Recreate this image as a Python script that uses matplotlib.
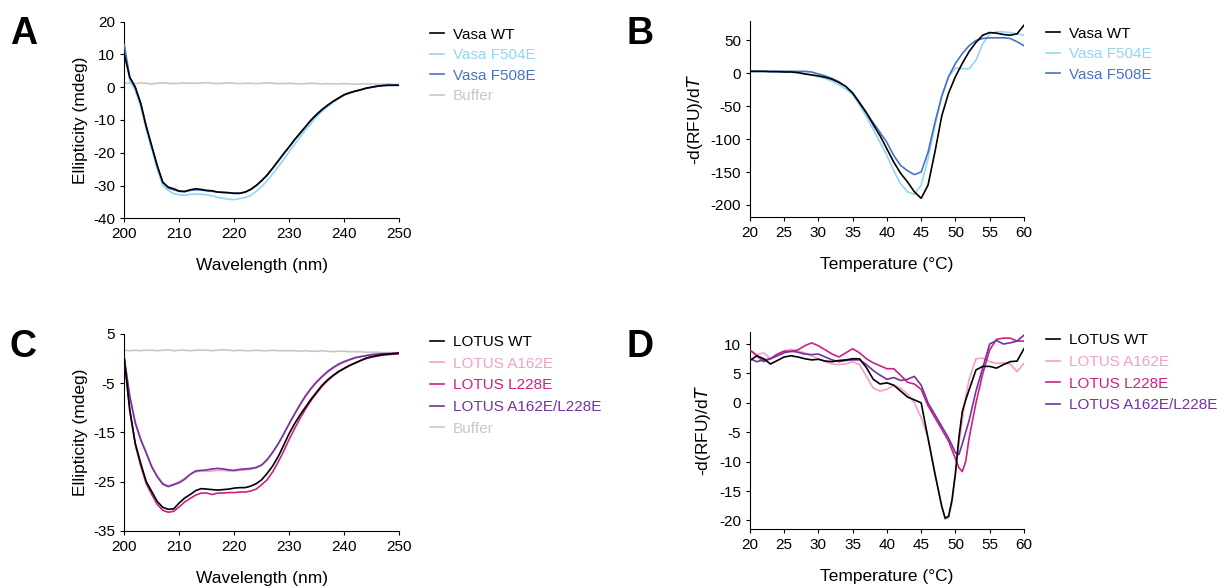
import numpy as np
import matplotlib
matplotlib.use("Agg")
import matplotlib.pyplot as plt

plt.rcParams['font.family'] = ['Liberation Sans', 'DejaVu Sans']
plt.rcParams['axes.unicode_minus'] = False

# ---- panel A: CD spectra, Vasa ----
wl_a = list(range(200, 251))
vasa_wt = [10, 3, 0, -5, -12, -18, -24, -29, -30.5, -31, -31.7, -31.8, -31.3, -31.0, -31.2,
           -31.5, -31.6, -32.0, -32.1, -32.2, -32.4, -32.4, -32.0, -31.2, -30.0, -28.5, -26.8,
           -24.7, -22.5, -20.3, -18.2, -16.0, -14.0, -12.0, -10.0, -8.3, -6.8, -5.5, -4.3,
           -3.3, -2.3, -1.7, -1.2, -0.8, -0.3, 0.0, 0.3, 0.5, 0.6, 0.6, 0.6]
vasa_f504e = [12, 2, -1, -6, -13, -19, -25, -30, -31.5, -32.5, -32.8, -33.0, -32.7, -32.6, -32.7,
              -32.8, -33.2, -33.6, -33.9, -34.2, -34.3, -34.0, -33.7, -33.0, -31.8, -30.3, -28.5,
              -26.5, -24.3, -22.0, -19.7, -17.4, -15.2, -13.0, -11.0, -9.0, -7.3, -5.9, -4.6,
              -3.5, -2.5, -1.8, -1.3, -0.8, -0.3, 0.0, 0.3, 0.5, 0.6, 0.6, 0.6]
vasa_f508e = [13, 3, 0, -5, -12, -18, -24, -29, -30.8, -31.3, -31.8, -31.9, -31.5, -31.3, -31.4,
              -31.6, -31.8, -32.0, -32.1, -32.2, -32.3, -32.3, -32.0, -31.2, -30.0, -28.5, -26.8,
              -24.7, -22.5, -20.3, -18.2, -16.0, -14.0, -12.0, -10.0, -8.3, -6.8, -5.5, -4.3,
              -3.3, -2.3, -1.7, -1.2, -0.8, -0.3, 0.0, 0.3, 0.5, 0.6, 0.6, 0.6]
buffer_a = [1.3, 1.2, 1.1, 1.3, 1.2, 1.0, 1.2, 1.3, 1.2, 1.1, 1.2, 1.3, 1.2, 1.2, 1.3,
            1.4, 1.2, 1.1, 1.2, 1.3, 1.2, 1.1, 1.2, 1.2, 1.1, 1.2, 1.3, 1.2, 1.1, 1.1,
            1.2, 1.1, 1.0, 1.1, 1.2, 1.1, 1.0, 1.1, 1.0, 1.0, 1.1, 1.0, 0.9, 1.0, 1.0,
            1.0, 0.9, 1.0, 1.0, 0.9, 0.9]

# ---- panel B: melt curves, Vasa ----
temp_b = list(range(20, 61))
b_wt = [3, 3, 3, 2.5, 2.5, 2, 2, 1, -1, -2.5, -4, -6, -9, -14, -20, -30, -45, -60, -78, -95,
        -115, -135, -152, -165, -180, -190, -170, -120, -65, -30, -5, 15, 33, 47, 58, 62, 61,
        59, 58, 60, 73]
b_f504e = [3, 3, 3, 3, 3, 3, 2.5, 2, 0, -2, -5, -8, -12, -18, -24, -32, -48, -66, -85, -105,
           -125, -148, -168, -180, -184, -170, -130, -80, -35, -5, 8, 7, 7, 20, 45, 60, 63, 63,
           62, 60, 58]
b_f508e = [3, 3, 3, 3, 3, 3, 3, 3, 3, 2, -1, -4, -8, -13, -20, -30, -44, -60, -75, -90, -105,
           -125, -140, -148, -154, -150, -120, -75, -35, -5, 15, 30, 42, 50, 53, 54, 54, 54, 53,
           48, 42]

# ---- panel C: CD spectra, LOTUS ----
wl_c = list(range(200, 251))
lotus_wt = [0, -10.4, -17.2, -21.3, -25.0, -27.0, -29.0, -30.2, -30.6, -30.5, -29.3, -28.3,
            -27.6, -26.8, -26.4, -26.5, -26.6, -26.7, -26.6, -26.5, -26.3, -26.2, -26.2, -25.9,
            -25.4, -24.6, -23.3, -21.8, -19.9, -17.6, -15.2, -13.2, -11.4, -9.8, -8.2, -6.8,
            -5.4, -4.3, -3.4, -2.6, -2.0, -1.4, -0.9, -0.4, 0.1, 0.4, 0.6, 0.8, 0.9, 1.0, 1.1]
lotus_a162e = [0, -7.5, -12.8, -16.3, -19.0, -21.8, -23.8, -25.3, -25.8, -25.5, -25.0, -24.3,
               -23.5, -23.0, -22.8, -22.9, -22.8, -22.7, -22.7, -22.8, -22.8, -22.7, -22.6, -22.5,
               -22.2, -21.6, -20.6, -19.1, -17.4, -15.4, -13.3, -11.3, -9.4, -7.7, -6.2, -4.9,
               -3.8, -2.8, -2.0, -1.3, -0.8, -0.3, 0.1, 0.4, 0.6, 0.8, 0.9, 1.0, 1.0, 1.0, 1.0]
lotus_l228e = [0, -10.6, -17.5, -21.8, -25.4, -27.6, -29.6, -30.8, -31.2, -31.0, -30.1, -29.1,
               -28.4, -27.7, -27.3, -27.3, -27.6, -27.3, -27.3, -27.2, -27.2, -27.1, -27.1, -26.9,
               -26.5, -25.6, -24.6, -23.0, -21.0, -18.8, -16.4, -14.2, -12.1, -10.2, -8.5, -7.0,
               -5.6, -4.5, -3.5, -2.7, -2.0, -1.4, -0.9, -0.4, 0.0, 0.3, 0.5, 0.7, 0.8, 0.9, 1.0]
lotus_dm = [0, -7.7, -13.1, -16.5, -19.2, -22.0, -24.0, -25.5, -26.0, -25.6, -25.2, -24.5,
            -23.5, -22.8, -22.7, -22.6, -22.4, -22.3, -22.4, -22.6, -22.7, -22.5, -22.4, -22.3,
            -22.1, -21.6, -20.5, -19.0, -17.3, -15.3, -13.2, -11.2, -9.3, -7.5, -6.0, -4.7,
            -3.6, -2.6, -1.8, -1.1, -0.6, -0.2, 0.2, 0.4, 0.6, 0.8, 0.9, 1.0, 1.0, 1.1, 1.1]
buffer_c = [1.7, 1.6, 1.7, 1.6, 1.7, 1.7, 1.6, 1.7, 1.8, 1.6, 1.7, 1.7, 1.6, 1.7, 1.7,
            1.7, 1.6, 1.7, 1.8, 1.7, 1.6, 1.7, 1.6, 1.6, 1.7, 1.6, 1.6, 1.7, 1.6, 1.6,
            1.6, 1.6, 1.5, 1.6, 1.5, 1.5, 1.6, 1.5, 1.4, 1.5, 1.5, 1.4, 1.4, 1.4, 1.3,
            1.3, 1.3, 1.2, 1.2, 1.2, 1.2]

# ---- panel D: melt curves, LOTUS ----
temp_d = [20, 21, 22, 23, 24, 25, 26, 27, 28, 29, 30, 31, 32, 33, 34, 35, 36, 37, 38, 39, 40,
          41, 42, 43, 44, 45, 46, 47, 48, 48.5, 49, 49.5, 50, 50.5, 51, 51.5, 52, 53, 54, 55,
          56, 57, 58, 59, 60]
d_wt = [7.2, 8.0, 7.5, 6.6, 7.2, 7.8, 8.0, 7.8, 7.5, 7.3, 7.4, 7.1, 7.0, 7.2, 7.3, 7.5, 7.5,
        6.0, 4.0, 3.2, 3.4, 3.0, 2.0, 1.0, 0.5, 0.0, -6.0, -12.0, -17.6, -19.6, -19.3, -16.5,
        -12.0, -6.0, -1.5, 0.5, 2.2, 5.6, 6.2, 6.2, 5.9, 6.5, 7.0, 7.1, 9.2]
d_a162e = [9.0, 8.2, 8.5, 7.5, 8.0, 8.8, 9.1, 8.8, 8.5, 8.0, 7.5, 7.0, 6.6, 6.5, 6.6, 7.0, 6.5,
           4.5, 2.5, 2.0, 2.3, 3.0, 2.5, 1.5, 0.0, -2.5, -6.0, -12.0, -17.5, -19.8, -19.5,
           -17.0, -12.0, -7.0, -3.0, 1.0, 4.0, 7.5, 7.6, 7.0, 6.7, 6.8, 6.6, 5.3, 6.7]
d_l228e = [9.0, 8.0, 7.0, 7.5, 8.3, 8.8, 8.7, 9.0, 9.7, 10.2, 9.7, 9.0, 8.3, 7.8, 8.5, 9.2,
           8.5, 7.5, 6.8, 6.3, 5.8, 5.8, 4.7, 3.5, 3.2, 2.3, -0.5, -2.5, -4.5, -5.5, -6.5, -8.0,
           -9.5, -11.0, -11.7, -10.0, -6.0, 0.0, 5.0, 9.0, 10.8, 11.0, 11.0, 10.5, 10.5]
d_dm = [7.5, 7.0, 7.3, 7.5, 8.0, 8.5, 8.8, 8.6, 8.3, 8.2, 8.3, 7.8, 7.3, 7.0, 7.2, 7.3, 7.3,
        6.5, 5.5, 4.7, 4.0, 4.3, 3.8, 4.0, 4.5, 3.0, 0.0, -2.0, -4.0, -5.0, -6.0, -7.2, -8.5,
        -8.8, -7.0, -5.0, -3.0, 2.0, 6.0, 10.0, 10.6, 10.0, 10.2, 10.5, 11.5]

C_BLACK = '#000000'
C_LBLUE = '#93d5f5'
C_BLUE = '#4a72c4'
C_GREY = '#c8c8c8'
C_PINK = '#f29fc9'
C_MAG = '#cf1f84'
C_PURP = '#7232a0'

fig = plt.figure(figsize=(12.22, 5.86), dpi=100)

positions = {
    'A': [0.1017, 0.6275, 0.2249, 0.3355],
    'B': [0.6137, 0.6290, 0.2242, 0.3357],
    'C': [0.1017, 0.0939, 0.2249, 0.3362],
    'D': [0.6137, 0.0968, 0.2242, 0.3362],
}


def style(ax):
    for s in ['top', 'right']:
        ax.spines[s].set_visible(False)
    ax.tick_params(labelsize=11, length=3, direction='out')


def add_legend(ax, x0, y0=1.0, spacing=0.42):
    leg = ax.legend(loc='upper left', bbox_to_anchor=(x0, y0), frameon=False,
                    fontsize=11, handlelength=0.9, handletextpad=0.6,
                    labelspacing=spacing, borderaxespad=0, labelcolor='linecolor')
    for h in leg.get_lines():
        h.set_linewidth(1.2)


# A
ax = fig.add_axes(positions['A'])
ax.plot(wl_a, vasa_wt, color=C_BLACK, lw=1.2, label='Vasa WT', zorder=4)
ax.plot(wl_a, vasa_f504e, color=C_LBLUE, lw=1.2, label='Vasa F504E', zorder=2)
ax.plot(wl_a, vasa_f508e, color=C_BLUE, lw=1.2, label='Vasa F508E', zorder=3)
ax.plot(wl_a, buffer_a, color=C_GREY, lw=1.2, label='Buffer', zorder=1)
ax.set_xlim(200, 250)
ax.set_ylim(-40, 20)
ax.set_xticks(range(200, 251, 10))
ax.set_yticks(range(-40, 21, 10))
ax.set_xlabel('Wavelength (nm)', fontsize=12.5, labelpad=12)
ax.set_ylabel('Ellipticity (mdeg)', fontsize=12.5, labelpad=4)
style(ax)
add_legend(ax, 1.09)
fig.text(0.008, 0.925, 'A', fontsize=27, fontweight='bold')

# B
ax = fig.add_axes(positions['B'])
ax.plot(temp_b, b_wt, color=C_BLACK, lw=1.2, label='Vasa WT', zorder=4)
ax.plot(temp_b, b_f504e, color=C_LBLUE, lw=1.2, label='Vasa F504E', zorder=2)
ax.plot(temp_b, b_f508e, color=C_BLUE, lw=1.2, label='Vasa F508E', zorder=3)
ax.set_xlim(20, 60)
ax.set_ylim(-219, 80)
ax.set_xticks(range(20, 61, 5))
ax.set_yticks([-200, -150, -100, -50, 0, 50])
ax.set_xlabel('Temperature (°C)', fontsize=12.5, labelpad=12)
ax.set_ylabel('-d(RFU)/d$\\it{T}$', fontsize=12.5, labelpad=4)
style(ax)
add_legend(ax, 1.06)
fig.text(0.513, 0.925, 'B', fontsize=27, fontweight='bold')

# C
ax = fig.add_axes(positions['C'])
ax.plot(wl_c, lotus_wt, color=C_BLACK, lw=1.2, label='LOTUS WT', zorder=5)
ax.plot(wl_c, lotus_a162e, color=C_PINK, lw=1.2, label='LOTUS A162E', zorder=2)
ax.plot(wl_c, lotus_l228e, color=C_MAG, lw=1.2, label='LOTUS L228E', zorder=3)
ax.plot(wl_c, lotus_dm, color=C_PURP, lw=1.2, label='LOTUS A162E/L228E', zorder=4)
ax.plot(wl_c, buffer_c, color=C_GREY, lw=1.2, label='Buffer', zorder=1)
ax.set_xlim(200, 250)
ax.set_ylim(-35, 5)
ax.set_xticks(range(200, 251, 10))
ax.set_yticks([-35, -25, -15, -5, 5])
ax.set_xlabel('Wavelength (nm)', fontsize=12.5, labelpad=12)
ax.set_ylabel('Ellipticity (mdeg)', fontsize=12.5, labelpad=4)
style(ax)
add_legend(ax, 1.09, 1.025, 0.5)
fig.text(0.008, 0.39, 'C', fontsize=27, fontweight='bold')

# D
ax = fig.add_axes(positions['D'])
ax.plot(temp_d, d_wt, color=C_BLACK, lw=1.2, label='LOTUS WT', zorder=5)
ax.plot(temp_d, d_a162e, color=C_PINK, lw=1.2, label='LOTUS A162E', zorder=2)
ax.plot(temp_d, d_l228e, color=C_MAG, lw=1.2, label='LOTUS L228E', zorder=3)
ax.plot(temp_d, d_dm, color=C_PURP, lw=1.2, label='LOTUS A162E/L228E', zorder=4)
ax.set_xlim(20, 60)
ax.set_ylim(-21.5, 12)
ax.set_xticks(range(20, 61, 5))
ax.set_yticks(range(-20, 11, 5))
ax.set_xlabel('Temperature (°C)', fontsize=12.5, labelpad=12)
ax.set_ylabel('-d(RFU)/d$\\it{T}$', fontsize=12.5, labelpad=4)
style(ax)
add_legend(ax, 1.06, 1.025, 0.5)
fig.text(0.513, 0.39, 'D', fontsize=27, fontweight='bold')

fig.savefig('out.png', dpi=100)
